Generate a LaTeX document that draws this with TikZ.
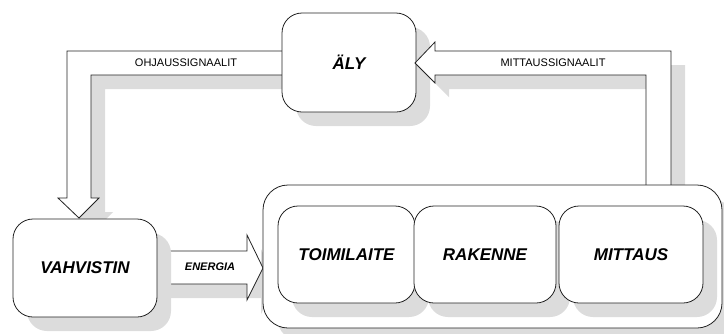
\documentclass[tikz,border=0pt]{standalone}
\usepackage{fontspec}
\setmainfont{Liberation Sans}
\usetikzlibrary{shadows}
\definecolor{shadowgray}{HTML}{DCDCDC}
\definecolor{linegray}{HTML}{222222}
\begin{document}
\begin{tikzpicture}[x=1pt,y=-1pt,
  shad/.style={drop shadow={shadow xshift=14pt,shadow yshift=-14pt,fill=shadowgray,opacity=1}},
  rbox/.style={draw=linegray,line width=0.8pt,fill=white,rounded corners=20pt,shad,
    font=\fontsize{17}{20}\selectfont\bfseries\itshape,inner sep=0pt},
  barrow/.style={draw=linegray,line width=0.8pt,fill=white,shad},
  siglabel/.style={font=\fontsize{11}{13}\selectfont,inner sep=0pt},
  enlabel/.style={font=\fontsize{11}{13}\selectfont\bfseries\itshape,inner sep=0pt}]
\useasboundingbox (0,0) rectangle (724,333);
\clip (0,0) rectangle (724,333);
% control signal arrow (drawn before the intelligence box)
\coordinate (o1) at (282,51);
\coordinate (o2) at (282,75);
\filldraw[barrow] (o1) -- (67,51) -- (67,198) -- (58,198) -- (79,218) -- (99,198) -- (91,198) -- (91,75) -- (o2);
\node[siglabel] (ohj) at (186,63) {OHJAUSSIGNAALIT};
% intelligence box
\node[rbox,minimum width=134pt,minimum height=99pt] (aly) at (349,62.5) {ÄLY};
% measurement signal arrow
\coordinate (m1) at (671,186);
\coordinate (m2) at (646,186);
\filldraw[barrow] (m1) -- (671,51) -- (435,51) -- (435,42) -- (415,63) -- (435,83) -- (435,75) -- (646,75) -- (m2);
\node[siglabel] (mit) at (553,63) {MITTAUSSIGNAALIT};
% energy arrow
\filldraw[barrow] (157,251) -- (247,251) -- (247,235) -- (263,268) -- (247,300) -- (247,284) -- (157,284);
\node[enlabel] (ene) at (210,267) {ENERGIA};
% amplifier
\node[rbox,minimum width=144pt,minimum height=98pt] (vah) at (85,268) {VAHVISTIN};
% process group
\node[rbox,rounded corners=25pt,minimum width=459pt,minimum height=143pt] (group) at (492.5,256.5) {};
\node[rbox,minimum width=137pt,minimum height=97pt] (toi) at (346.5,254.5) {TOIMILAITE};
\node[rbox,minimum width=142pt,minimum height=97pt] (rak) at (485,254.5) {RAKENNE};
\node[rbox,minimum width=144pt,minimum height=97pt] (mtt) at (631,254.5) {MITTAUS};
\end{tikzpicture}
\end{document}
